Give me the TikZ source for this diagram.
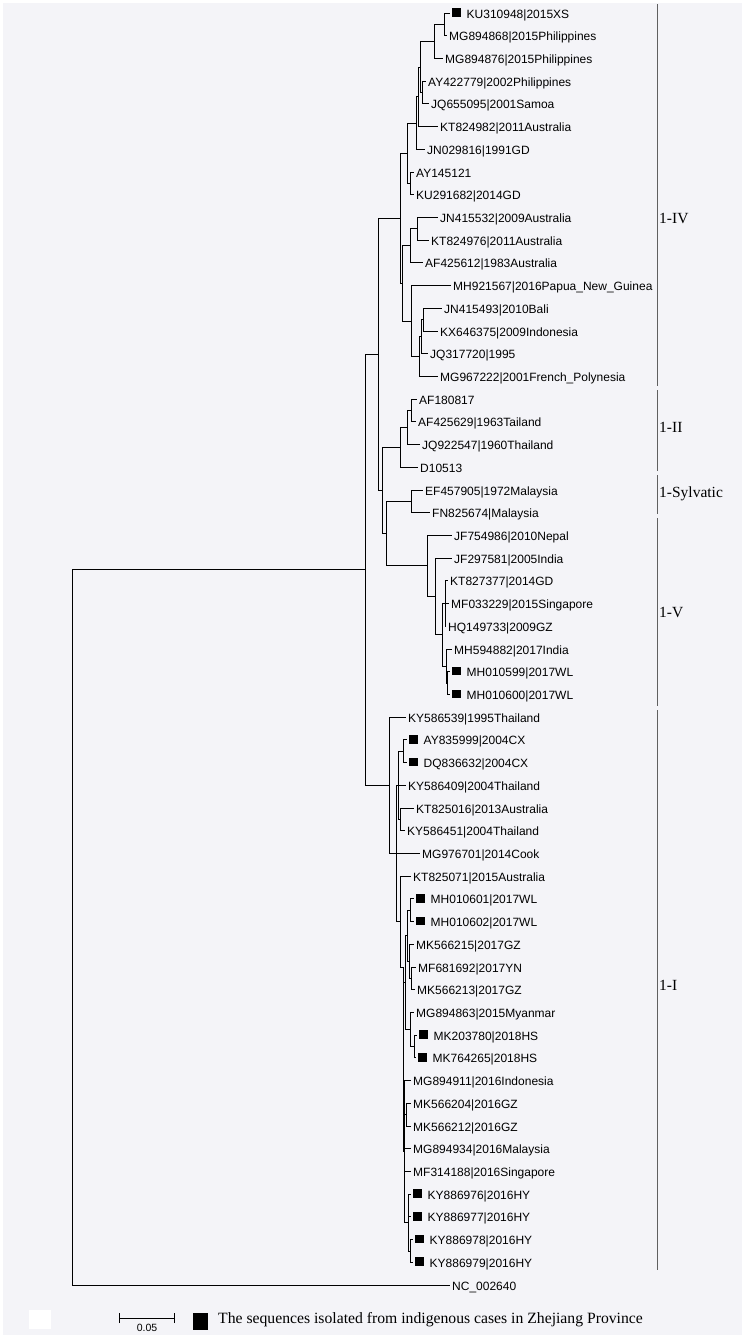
\documentclass[tikz,border=0pt]{standalone}
\usepackage{fontspec}
\usepackage{tikz}
\newfontfamily\leaffont{Liberation Sans}
\newfontfamily\cladefont{Liberation Serif}
\definecolor{panelgray}{RGB}{244,244,248}
\definecolor{bargray}{RGB}{96,96,96}
\newcommand{\indig}{\rule[1.4pt]{8.5pt}{8.5pt}\hspace{6pt}}
\tikzstyle{leaf}=[anchor=west, inner xsep=2pt, inner ysep=0pt, text height=10pt, text depth=0pt, font=\leaffont\fontsize{12}{14}\selectfont]
\tikzstyle{clade}=[anchor=base west, inner sep=0pt, font=\cladefont\fontsize{15.5}{18}\selectfont]
\tikzstyle{branch}=[line width=0.9pt]
\tikzstyle{cladebar}=[draw=bargray, line width=1pt]

\begin{document}
\begin{tikzpicture}[x=1pt, y=-1pt]
    \useasboundingbox (0,0) rectangle (746,1339);
    \fill[panelgray] (3,3) rectangle (742,1335);
    % genotype 1-IV
    \node[leaf] (KU310948) at (450,13.0) {\indig KU310948|2015XS};
    \node[leaf] (MG894868) at (447,35.7) {MG894868|2015Philippines};
    \node[leaf] (MG894876) at (443,58.4) {MG894876|2015Philippines};
    \node[leaf] (AY422779) at (426,81.1) {AY422779|2002Philippines};
    \node[leaf] (JQ655095) at (429,103.9) {JQ655095|2001Samoa};
    \node[leaf] (KT824982) at (438,126.6) {KT824982|2011Australia};
    \node[leaf] (JN029816) at (425,149.3) {JN029816|1991GD};
    \node[leaf] (AY145121) at (414,172.0) {AY145121};
    \node[leaf] (KU291682) at (414,194.7) {KU291682|2014GD};
    \node[leaf] (JN415532) at (438,217.4) {JN415532|2009Australia};
    \node[leaf] (KT824976) at (429,240.1) {KT824976|2011Australia};
    \node[leaf] (AF425612) at (423,262.9) {AF425612|1983Australia};
    \node[leaf] (MH921567) at (451,285.6) {MH921567|2016Papua\_New\_Guinea};
    \node[leaf] (JN415493) at (442,308.3) {JN415493|2010Bali};
    \node[leaf] (KX646375) at (438,331.0) {KX646375|2009Indonesia};
    \node[leaf] (JQ317720) at (428,353.7) {JQ317720|1995};
    \node[leaf] (MG967222) at (438,376.4) {MG967222|2001French\_Polynesia};
    % genotype 1-II
    \node[leaf] (AF180817) at (417,399.1) {AF180817};
    \node[leaf] (AF425629) at (416,421.9) {AF425629|1963Tailand};
    \node[leaf] (JQ922547) at (420,444.6) {JQ922547|1960Thailand};
    \node[leaf] (D10513) at (418,467.3) {D10513};
    % sylvatic
    \node[leaf] (EF457905) at (423,490.0) {EF457905|1972Malaysia};
    \node[leaf] (FN825674) at (430,512.7) {FN825674|Malaysia};
    % genotype 1-V
    \node[leaf] (JF754986) at (452,535.4) {JF754986|2010Nepal};
    \node[leaf] (JF297581) at (452,558.1) {JF297581|2005India};
    \node[leaf] (KT827377) at (448,580.9) {KT827377|2014GD};
    \node[leaf] (MF033229) at (449,603.6) {MF033229|2015Singapore};
    \node[leaf] (HQ149733) at (446,626.3) {HQ149733|2009GZ};
    \node[leaf] (MH594882) at (452,649.0) {MH594882|2017India};
    \node[leaf] (MH010599) at (450,671.7) {\indig MH010599|2017WL};
    \node[leaf] (MH010600) at (450,694.4) {\indig MH010600|2017WL};
    % genotype 1-I
    \node[leaf] (KY586539) at (406,717.1) {KY586539|1995Thailand};
    \node[leaf] (AY835999) at (407,739.9) {\indig AY835999|2004CX};
    \node[leaf] (DQ836632) at (407,762.6) {\indig DQ836632|2004CX};
    \node[leaf] (KY586409) at (406,785.3) {KY586409|2004Thailand};
    \node[leaf] (KT825016) at (414,808.0) {KT825016|2013Australia};
    \node[leaf] (KY586451) at (405,830.7) {KY586451|2004Thailand};
    \node[leaf] (MG976701) at (420,853.4) {MG976701|2014Cook};
    \node[leaf] (KT825071) at (411,876.1) {KT825071|2015Australia};
    \node[leaf] (MH010601) at (414,898.9) {\indig MH010601|2017WL};
    \node[leaf] (MH010602) at (414,921.6) {\indig MH010602|2017WL};
    \node[leaf] (MK566215) at (414,944.3) {MK566215|2017GZ};
    \node[leaf] (MF681692) at (416,967.0) {MF681692|2017YN};
    \node[leaf] (MK566213) at (415,989.7) {MK566213|2017GZ};
    \node[leaf] (MG894863) at (414,1012.4) {MG894863|2015Myanmar};
    \node[leaf] (MK203780) at (417,1035.1) {\indig MK203780|2018HS};
    \node[leaf] (MK764265) at (416,1057.9) {\indig MK764265|2018HS};
    \node[leaf] (MG894911) at (411,1080.6) {MG894911|2016Indonesia};
    \node[leaf] (MK566204) at (411,1103.3) {MK566204|2016GZ};
    \node[leaf] (MK566212) at (411,1126.0) {MK566212|2016GZ};
    \node[leaf] (MG894934) at (411,1148.7) {MG894934|2016Malaysia};
    \node[leaf] (MF314188) at (411,1171.4) {MF314188|2016Singapore};
    \node[leaf] (KY886976) at (411,1194.1) {\indig KY886976|2016HY};
    \node[leaf] (KY886977) at (411,1216.9) {\indig KY886977|2016HY};
    \node[leaf] (KY886978) at (413,1239.6) {\indig KY886978|2016HY};
    \node[leaf] (KY886979) at (413,1262.3) {\indig KY886979|2016HY};
    % outgroup
    \node[leaf] (NC002640) at (450,1285.0) {NC\_002640};
    % inner nodes
    \coordinate (root) at (72,927.4);
    \coordinate (ingroup) at (365,569.8);
    \coordinate (upper) at (378,354.4);
    \coordinate (lower) at (382,490.5);
    \coordinate (sylV) at (386,533.6);
    \coordinate (cIV) at (400,218.3);
    \coordinate (cII) at (400,447.4);
    \coordinate (cSyl) at (411,501.35);
    \coordinate (cV) at (427,565.9);
    \coordinate (cI) at (389,785.25);
    \coordinate (iv1) at (444,24.35);
    \coordinate (iv2) at (434,41.4);
    \coordinate (iv3) at (422,92.5);
    \coordinate (iv4) at (420,66.95);
    \coordinate (iv5) at (418,96.8);
    \coordinate (iv6) at (416,123.0);
    \coordinate (iv7) at (410,183.35);
    \coordinate (iv8) at (407,153.2);
    \coordinate (iv9) at (417,228.75);
    \coordinate (iv10) at (410,245.8);
    \coordinate (iv11) at (423,319.65);
    \coordinate (iv12) at (421,336.7);
    \coordinate (iv13) at (419,356.55);
    \coordinate (iv14) at (411,321.1);
    \coordinate (iv15) at (402,283.45);
    \coordinate (ii1) at (411,410.5);
    \coordinate (ii2) at (407,427.55);
    \coordinate (v1) at (447,683.05);
    \coordinate (v2) at (446,666.0);
    \coordinate (v3) at (445,603.6);
    \coordinate (v4) at (442,634.8);
    \coordinate (v5) at (435,596.45);
    \coordinate (i1) at (403,751.25);
    \coordinate (i2) at (400,819.35);
    \coordinate (i3) at (398,785.3);
    \coordinate (i4) at (396,853.4);
    \coordinate (i5) at (400,921.5);
    \coordinate (i6) at (403,967);
    \coordinate (i7) at (410,910.25);
    \coordinate (i8) at (411,978.35);
    \coordinate (i9) at (409,961.3);
    \coordinate (i10) at (407,935.8);
    \coordinate (i11) at (405,982.6);
    \coordinate (i12) at (414,1046.5);
    \coordinate (i13) at (410,1029.45);
    \coordinate (i14) at (406,1114.65);
    \coordinate (i15) at (410,1250.95);
    \coordinate (i16) at (408,1222.5);
    \coordinate (i17) at (404,1151.5);
    % branches
    \foreach \from/\to in
      {root/ingroup, root/NC002640.west, ingroup/upper, ingroup/cI,
       upper/cIV, upper/lower, lower/cII, lower/sylV, sylV/cSyl, sylV/cV,
       iv1/KU310948.west, iv1/MG894868.west, iv2/iv1, iv2/MG894876.west,
       iv3/AY422779.west, iv3/JQ655095.west, iv4/iv2, iv4/iv3,
       iv5/iv4, iv5/KT824982.west, iv6/iv5, iv6/JN029816.west,
       iv7/AY145121.west, iv7/KU291682.west, iv8/iv6, iv8/iv7,
       iv9/JN415532.west, iv9/KT824976.west, iv10/iv9, iv10/AF425612.west,
       iv11/JN415493.west, iv11/KX646375.west, iv12/iv11, iv12/JQ317720.west,
       iv13/iv12, iv13/MG967222.west, iv14/MH921567.west, iv14/iv13,
       iv15/iv10, iv15/iv14, cIV/iv8, cIV/iv15,
       ii1/AF180817.west, ii1/AF425629.west, ii2/ii1, ii2/JQ922547.west,
       cII/ii2, cII/D10513.west,
       cSyl/EF457905.west, cSyl/FN825674.west,
       v1/MH010599.west, v1/MH010600.west, v2/MH594882.west, v2/v1,
       v3/KT827377.west, v3/MF033229.west, v3/HQ149733.west, v4/v3, v4/v2,
       v5/JF297581.west, v5/v4, cV/JF754986.west, cV/v5,
       i1/AY835999.west, i1/DQ836632.west, i2/KT825016.west, i2/KY586451.west,
       i3/i1, i3/KY586409.west, i3/i2, i4/i3, i4/MG976701.west, i4/i5,
       i5/KT825071.west, i5/i6, i6/i11, i6/i17,
       i7/MH010601.west, i7/MH010602.west, i8/MF681692.west, i8/MK566213.west,
       i9/MK566215.west, i9/i8, i10/i7, i10/i9,
       i12/MK203780.west, i12/MK764265.west, i13/MG894863.west, i13/i12,
       i11/i10, i11/i13, i14/MK566204.west, i14/MK566212.west,
       i15/KY886978.west, i15/KY886979.west,
       i16/KY886976.west, i16/KY886977.west, i16/i15,
       i17/MG894911.west, i17/i14, i17/MG894934.west, i17/MF314188.west, i17/i16,
       cI/KY586539.west, cI/i4}
    \draw[branch] (\from) |- (\to);
    % genotype bars
    \draw[cladebar] (657,4) -- (657,386);
    \draw[cladebar] (657,390) -- (657,471);
    \draw[cladebar] (657,475) -- (657,514);
    \draw[cladebar] (657,518) -- (657,706);
    \draw[cladebar] (657,710) -- (657,1270);
    \node[clade] (labIV) at (659,223) {1-IV};
    \node[clade] (labII) at (659,432) {1-II};
    \node[clade] (labSyl) at (659,497) {1-Sylvatic};
    \node[clade] (labV) at (659,617) {1-V};
    \node[clade] (labI) at (659,990) {1-I};
    % legend
    \fill[white] (29,1310) rectangle (51,1329);
    \coordinate (sbL) at (119,1318);
    \coordinate (sbR) at (174,1318);
    \draw[line width=0.9pt] (sbL) -- (sbR);
    \draw[line width=0.9pt] ([yshift=-5pt]sbL) -- ([yshift=5pt]sbL);
    \draw[line width=0.9pt] ([yshift=-5pt]sbR) -- ([yshift=5pt]sbR);
    \node[font=\leaffont\fontsize{10.5}{12}\selectfont, inner sep=0pt] (sblab) at (147,1328) {0.05};
    \fill (193,1313) rectangle (208,1330);
    \node[anchor=base west, inner sep=0pt, font=\cladefont\fontsize{15.7}{18}\selectfont] (legend) at (218,1323) {The sequences isolated from indigenous cases in Zhejiang Province};
\end{tikzpicture}
\end{document}
